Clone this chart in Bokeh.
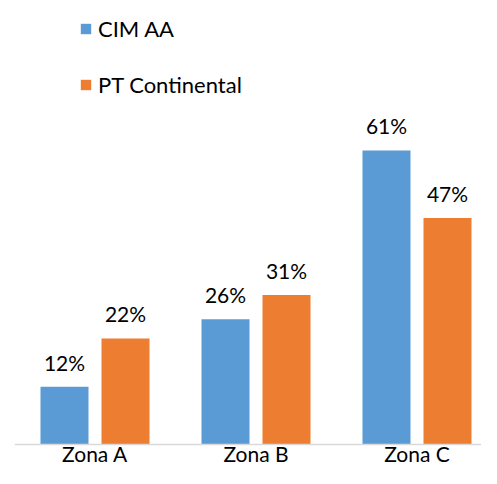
from bokeh.plotting import figure
from bokeh.models import ColumnDataSource, Range1d, Span, LabelSet, Legend, LegendItem
from bokeh.core.properties import value
from bokeh.transform import dodge
from bokeh.embed import file_html
from bokeh.resources import INLINE

zones = ["Zona A", "Zona B", "Zona C"]
cim_aa = [12, 26, 61]
pt_continental = [22, 31, 47]

BLUE = "#5B9BD5"
ORANGE = "#ED7D31"
FONT = "Lato"
FS = "21px"

idx = list(range(len(zones)))
src = ColumnDataSource(data=dict(
    idx=idx,
    zone=zones,
    cim=cim_aa,
    pt=pt_continental,
    cim_lbl=[f"{v}%" for v in cim_aa],
    pt_lbl=[f"{v}%" for v in pt_continental],
    zero=[0] * len(zones),
))

W, H = 481, 468
cat_px = 161.0
left = 14
frame_w = W - left
base_px = 444          # baseline position from top
px_per_pct = 4.82

p = figure(width=W, height=H, output_backend="svg", toolbar_location=None,
           x_range=Range1d(-0.5, -0.5 + frame_w / cat_px),
           y_range=Range1d(-(H - base_px) / px_per_pct, base_px / px_per_pct),
           min_border_left=left, min_border_right=0, min_border_top=0, min_border_bottom=0,
           x_axis_location=None, y_axis_location=None)
p.outline_line_color = None
p.xgrid.visible = False
p.ygrid.visible = False
p.background_fill_color = "white"
p.border_fill_color = "white"

off = 30.5 / cat_px
bw = 48 / cat_px

r1 = p.vbar(x=dodge("idx", -off, range=p.x_range), top="cim", bottom=0, width=bw, source=src,
            fill_color=BLUE, line_color=None)
r2 = p.vbar(x=dodge("idx", off, range=p.x_range), top="pt", bottom=0, width=bw, source=src,
            fill_color=ORANGE, line_color=None)

p.add_layout(Span(location=0, dimension="width", line_color="#d9d9d9", line_width=1.5))

for col, lbl, o in (("cim", "cim_lbl", -off), ("pt", "pt_lbl", off)):
    p.add_layout(LabelSet(x=dodge("idx", o, range=p.x_range), y=col, text=lbl, source=src,
                          y_offset=16, text_align="center", text_baseline="alphabetic",
                          text_font=value(FONT), text_font_size=value(FS), text_color="#000000"))

p.add_layout(LabelSet(x="idx", y="zero", text="zone", source=src, y_offset=-17,
                      text_align="center", text_baseline="alphabetic",
                      text_font=value(FONT), text_font_size=value(FS), text_color="#000000"))

legend = Legend(items=[LegendItem(label="CIM AA", renderers=[r1]),
                       LegendItem(label="PT Continental", renderers=[r2])],
                location=(65, 370), orientation="vertical",
                glyph_width=13, glyph_height=13, label_height=13,
                label_standoff=6, spacing=29, padding=0, margin=0,
                label_text_font=FONT, label_text_font_size="22px", label_text_color="#000000",
                border_line_color=None, background_fill_alpha=0)
p.add_layout(legend)

open("out.html", "w").write(file_html(p, INLINE))
